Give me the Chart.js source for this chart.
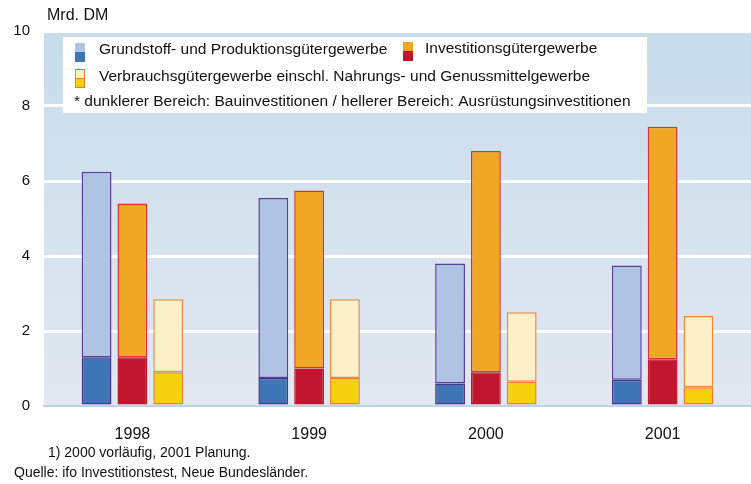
<!DOCTYPE html>
<html>
<head>
<meta charset="utf-8">
<script src="https://cdn.jsdelivr.net/npm/chart.js@4/dist/chart.umd.min.js"></script>
<style>
  html, body { margin: 0; padding: 0; background: #fff; }
  #wrap { position: relative; width: 751px; height: 484px; }
</style>
</head>
<body>
<div id="wrap"><canvas id="chart" width="751" height="484"></canvas></div>
<script>
// Daten (Mrd. DM)
var jahre = ['1998', '1999', '2000', '2001'];
var yTicks = [0, 2, 4, 6, 8, 10];

// dunklerer Bereich = Bauinvestitionen, hellerer Bereich = Ausrüstungsinvestitionen
var grundBau = [1.3, 0.75, 0.6, 0.7];
var grundAusr = [4.95, 4.8, 3.2, 3.05];
var investBau = [1.3, 1.0, 0.9, 1.25];
var investAusr = [4.1, 4.75, 5.9, 6.2];
var verbrBau = [0.9, 0.75, 0.65, 0.5];
var verbrAusr = [1.95, 2.1, 1.85, 1.9];

var legendeZeilen = [
    'Grundstoff- und Produktionsgütergewerbe',
    'Investitionsgütergewerbe',
    'Verbrauchsgütergewerbe einschl. Nahrungs- und Genussmittelgewerbe',
    '* dunklerer Bereich: Bauinvestitionen / hellerer Bereich: Ausrüstungsinvestitionen'
];
var fussnote = '1) 2000 vorläufig, 2001 Planung.';
var quelle = 'Quelle: ifo Investitionstest, Neue Bundesländer.';
var einheit = 'Mrd. DM';

var FONT = '"Liberation Sans", Arial, Helvetica, sans-serif';

//hintergrund
const hintergrund = {
    id: 'hintergrund',
    beforeDraw: function (chart) {
        var ctx = chart.ctx, a = chart.chartArea;
        ctx.save();
        var g = ctx.createLinearGradient(0, a.top, 0, a.bottom);
        g.addColorStop(0, '#c8dcec');
        g.addColorStop(1, '#e2e8f0');
        ctx.fillStyle = g;
        ctx.fillRect(a.left, a.top, a.right - a.left, a.bottom - a.top);
        ctx.restore();
    }
};

function icon(ctx, x, y, oben, unten, rand) {
    ctx.fillStyle = oben;
    ctx.fillRect(x, y, 10, 9);
    ctx.fillStyle = unten;
    ctx.fillRect(x, y + 9, 10, 10);
    if (rand) {
        ctx.strokeStyle = rand;
        ctx.lineWidth = 1;
        ctx.strokeRect(x + 0.5, y + 0.5, 9, 18);
        ctx.beginPath();
        ctx.moveTo(x, y + 9.5);
        ctx.lineTo(x + 10, y + 9.5);
        ctx.stroke();
    }
}

//legende und texte
const texte = {
    id: 'texte',
    afterDraw: function (chart) {
        var ctx = chart.ctx;
        ctx.save();
        ctx.fillStyle = '#ffffff';
        ctx.fillRect(63, 37, 584, 76);

        icon(ctx, 75, 43, '#aec4e2', '#3d75b5', null);
        icon(ctx, 403, 42, '#f0a824', '#c0172e', null);
        icon(ctx, 75, 69, '#fbf0c8', '#f5d20c', '#f07a30');

        ctx.fillStyle = '#111';
        ctx.font = '15.5px ' + FONT;
        ctx.textBaseline = 'middle';
        ctx.textAlign = 'left';
        ctx.fillText(legendeZeilen[0], 99, 50);
        ctx.fillText(legendeZeilen[1], 425, 49);
        ctx.fillText(legendeZeilen[2], 99, 77);
        ctx.fillText(legendeZeilen[3], 74, 102);

        ctx.font = '16px ' + FONT;
        ctx.fillText(einheit, 47, 16);

        ctx.font = '14px ' + FONT;
        ctx.fillText(fussnote, 48, 453);
        ctx.fillText(quelle, 14, 473);
        ctx.restore();
    }
};

function balken(label, werte, stack, farbe, rand) {
    return {
        label: label,
        data: werte,
        stack: stack,
        backgroundColor: farbe,
        borderColor: rand,
        borderWidth: 1.5,
        borderSkipped: false,
        categoryPercentage: 0.608,
        barPercentage: 0.833
    };
}

new Chart(document.getElementById('chart'), {
    type: 'bar',
    data: {
        labels: jahre,
        datasets: [
            balken('Grundstoff Bau', grundBau, 'a', '#3d75b5', '#4a2f8f'),
            balken('Grundstoff Ausrüstung', grundAusr, 'a', '#aec4e2', '#5a3d9a'),
            balken('Investition Bau', investBau, 'b', '#c0172e', '#c0172e'),
            balken('Investition Ausrüstung', investAusr, 'b', '#f0a824', '#d8303a'),
            balken('Verbrauch Bau', verbrBau, 'c', '#f5d20c', '#f08030'),
            balken('Verbrauch Ausrüstung', verbrAusr, 'c', '#fbf0c8', '#f08a40')
        ]
    },
    options: {
        responsive: false,
        animation: false,
        layout: { padding: { top: 31, right: 0, bottom: 38, left: 0 } },
        plugins: {
            legend: { display: false },
            tooltip: { enabled: false }
        },
        scales: {
            x: {
                stacked: true,
                grid: { display: false },
                border: { display: true, color: '#bfd2ea', width: 2 },
                ticks: { color: '#111', font: { family: FONT, size: 16 }, padding: 11 },
                afterFit: function (s) { s.height = 40; }
            },
            y: {
                stacked: true,
                min: 0,
                max: 10,
                afterBuildTicks: function (s) { s.ticks = yTicks.map(v => ({ value: v })); },
                grid: { color: '#ffffff', lineWidth: 3, drawTicks: false },
                border: { display: false },
                ticks: { color: '#111', font: { family: FONT, size: 15 }, padding: 14 },
                afterFit: function (s) { s.width = 44; }
            }
        }
    },
    plugins: [hintergrund, texte]
});
</script>
</body>
</html>
